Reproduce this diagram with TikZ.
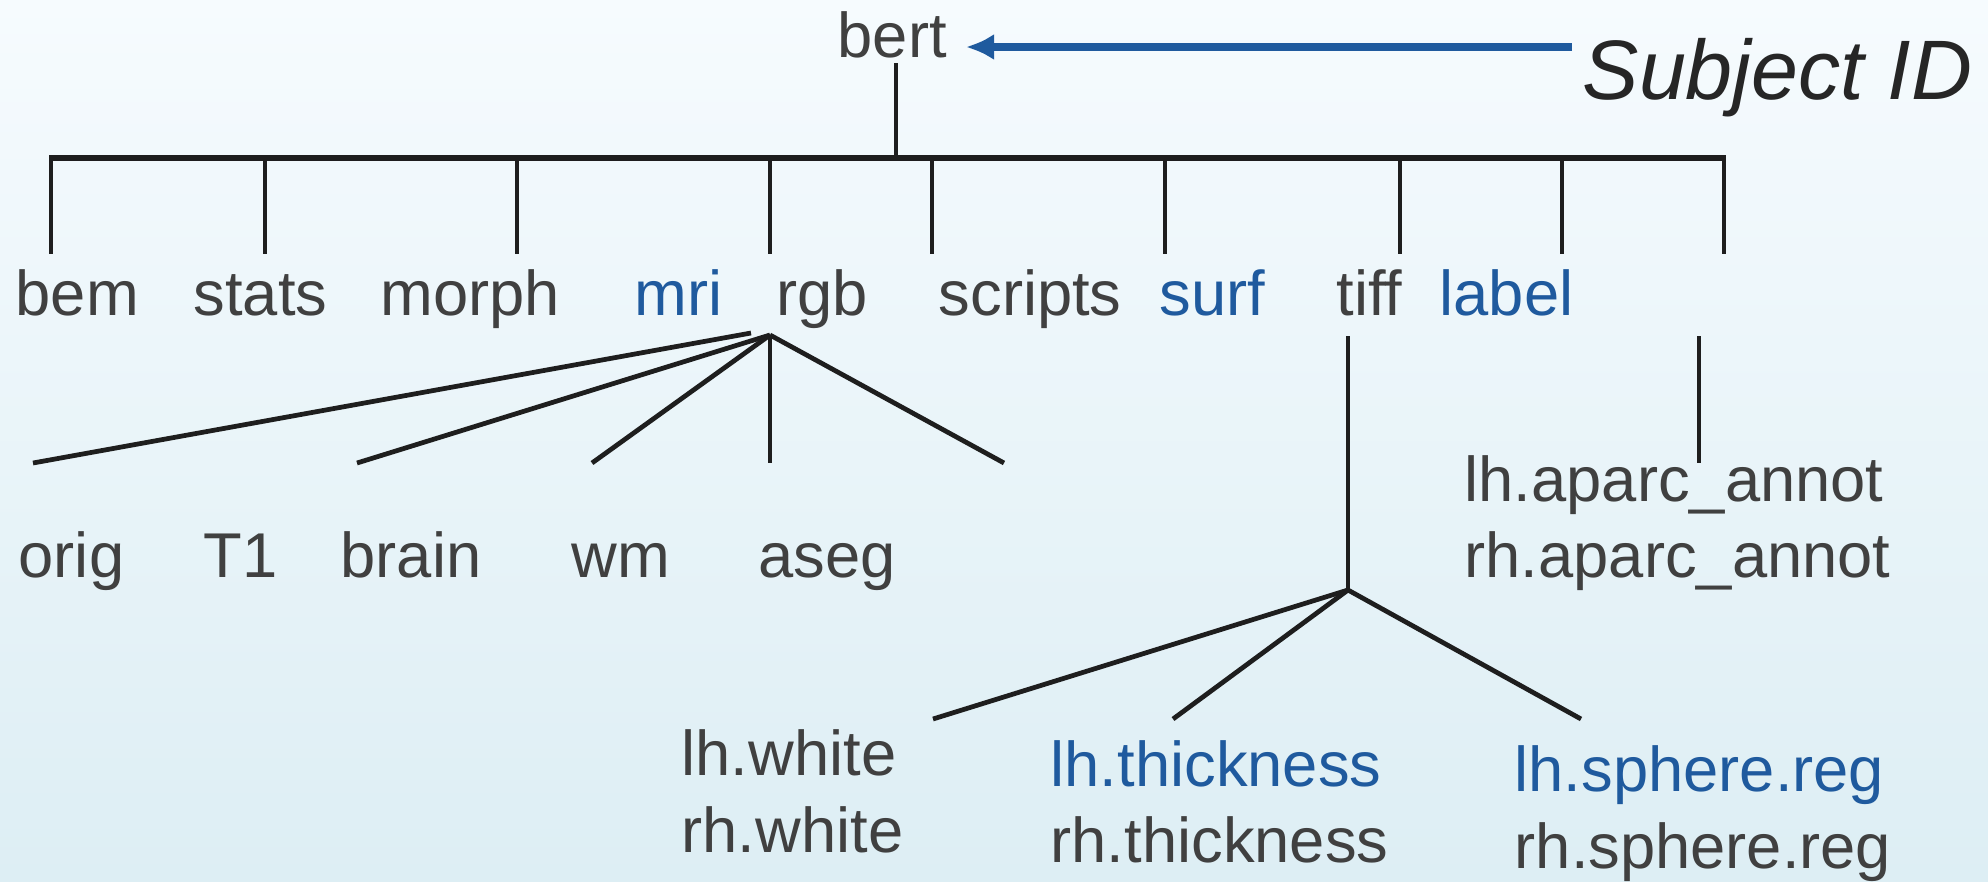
\documentclass[tikz,border=0pt]{standalone}
\usepackage{fontspec}
\setmainfont{Liberation Sans}
\usetikzlibrary{arrows.meta, positioning}

\definecolor{txtgray}{HTML}{404040}
\definecolor{idgray}{HTML}{262626}
\definecolor{dirblue}{HTML}{1F5A9E}
\definecolor{linegray}{HTML}{1E1E1E}
\definecolor{bgtop}{HTML}{F6FBFE}
\definecolor{bgmid}{HTML}{F1F8FC}
\definecolor{bgbot}{HTML}{DDEEF4}

\begin{document}
\begin{tikzpicture}[x=0.01cm, y=-0.01cm,
    dir/.style={inner sep=0pt, anchor=base west, text=txtgray,
                font=\fontsize{18}{22}\selectfont},
    hot/.style={dir, text=dirblue},
    branch/.style={draw=linegray, line width=1.35pt},
    arrow/.style={-{Latex[length=8pt, width=7.5pt]}, line width=2pt, draw=dirblue}]

    % background
    \shade[top color=bgtop, middle color=bgmid, bottom color=bgbot] (0,0) rectangle (1988,881);
    \useasboundingbox (0,0) rectangle (1988,881);

    % subject
    \node[dir] (bert) at (837,57) {bert};
    \node[inner sep=0pt, anchor=base west, text=idgray,
          font=\fontsize{24}{28}\selectfont\itshape] (subj) at (1582,99) {Subject ID};
    \coordinate (idtail) at (1572,47);
    \coordinate (idtip) at (966,47);
    \draw[arrow] (idtail) -- (idtip);

    % first level directories
    \node[dir] (bem)     at (15,315)   {bem};
    \node[dir] (stats)   at (193,315)  {stats};
    \node[dir] (morph)   at (380,315)  {morph};
    \node[hot] (mri)     at (634,315)  {mri};
    \node[dir] (rgb)     at (776,315)  {rgb};
    \node[dir] (scripts) at (938,315)  {scripts};
    \node[hot] (surf)    at (1159,315) {surf};
    \node[dir] (tiff)    at (1336,315) {tiff};
    \node[hot] (label)   at (1439,315) {label};

    % mri files
    \node[dir] (orig)  at (18,577)  {orig};
    \node[dir] (T1)    at (203,577) {T1};
    \node[dir] (brain) at (340,577) {brain};
    \node[dir] (wm)    at (571,577) {wm};
    \node[dir] (aseg)  at (758,577) {aseg};

    % label files
    \node[dir] (lhannot) at (1464,501) {lh.aparc\_annot};
    \node[dir] (rhannot) at (1464,577) {rh.aparc\_annot};

    % surf files
    \node[dir] (lhwhite)  at (681,775)  {lh.white};
    \node[dir] (rhwhite)  at (681,852)  {rh.white};
    \node[hot] (lhthick)  at (1050,786) {lh.thickness};
    \node[dir] (rhthick)  at (1050,862) {rh.thickness};
    \node[hot] (lhsphere) at (1514,791) {lh.sphere.reg};
    \node[dir] (rhsphere) at (1514,868) {rh.sphere.reg};

    % tree under bert
    \coordinate (bertfoot) at (896,63);
    \coordinate (barmid) at (896,158);
    \coordinate (barleft) at (49,158);
    \coordinate (barright) at (1726,158);
    \draw[branch] (bertfoot) -- (barmid);
    \draw[branch, line width=1.6pt] (barleft) -- (barright);
    \foreach \x in {51,265,517,770,932,1165,1400,1562,1724}
        \draw[branch] (\x,158) -- (\x,254);

    % fan of mri
    \coordinate (mritop) at (770,335);
    \coordinate (mritop2) at (751,333);
    \coordinate (fan1) at (33,463);
    \coordinate (fan2) at (357,463);
    \coordinate (fan3) at (592,463);
    \coordinate (fan4) at (770,463);
    \coordinate (fan5) at (1004,463);
    \draw[branch] (mritop2) -- (fan1);
    \draw[branch] (mritop) -- (fan2);
    \draw[branch] (mritop) -- (fan3);
    \draw[branch] (mritop) -- (fan4);
    \draw[branch] (mritop) -- (fan5);

    % fan of surf
    \coordinate (surftop) at (1348,336);
    \coordinate (surfknot) at (1348,590);
    \coordinate (surf1) at (933,719);
    \coordinate (surf2) at (1173,719);
    \coordinate (surf3) at (1581,719);
    \draw[branch] (surftop) -- (surfknot);
    \draw[branch] (surfknot) -- (surf1);
    \draw[branch] (surfknot) -- (surf2);
    \draw[branch] (surfknot) -- (surf3);

    % stem of label
    \coordinate (labeltop) at (1699,336);
    \coordinate (labelfoot) at (1699,463);
    \draw[branch] (labeltop) -- (labelfoot);
\end{tikzpicture}
\end{document}
